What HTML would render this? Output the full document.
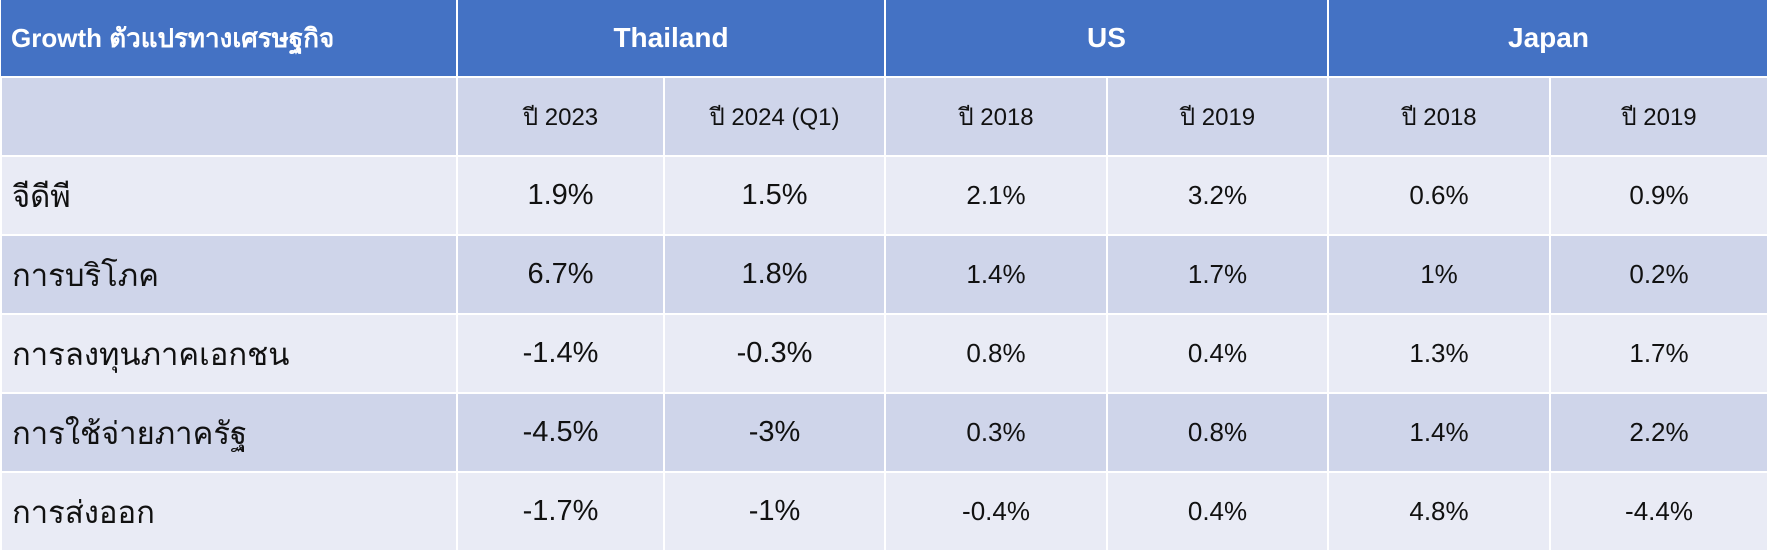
<!DOCTYPE html>
<html><head><meta charset="utf-8"><style>
html,body{margin:0;padding:0;background:#fff;}
body{width:1767px;height:550px;overflow:hidden;font-family:"Liberation Sans","Noto Sans CJK SC",sans-serif;}
table{border-collapse:collapse;table-layout:fixed;width:1767px;}
td{border:2px solid #fff;padding:0;text-align:center;color:#111;overflow:hidden;white-space:nowrap;}
tr.h td{background:#4472C4;color:#fff;font-weight:bold;font-size:28px;height:76px;}
tr.h td.l{text-align:left;padding-left:10px;font-size:26px;}
tr td{height:77px;font-size:26px;}
tr.a td{background:#E9EBF5;}
tr.b td{background:#CFD5EA;}
tr.s td{font-size:24px;}
td.l{text-align:left;padding-left:10px;font-size:31px;}
td.t{font-size:29px;}
</style></head><body>
<table>
<colgroup><col style="width:456px"><col style="width:207px"><col style="width:221px"><col style="width:222px"><col style="width:221px"><col style="width:222px"><col style="width:218px"></colgroup>
<tr class="h"><td class="l" style="border-top:0;border-left:0">Growth ตัวแปรทางเศรษฐกิจ</td><td colspan="2" style="border-top:0">Thailand</td><td colspan="2" style="border-top:0">US</td><td colspan="2" style="border-top:0;border-right:0">Japan</td></tr>
<tr class="b s"><td></td><td>ปี 2023</td><td>ปี 2024 (Q1)</td><td>ปี 2018</td><td>ปี 2019</td><td>ปี 2018</td><td>ปี 2019</td></tr>
<tr class="a"><td class="l">จีดีพี</td><td class="t">1.9%</td><td class="t">1.5%</td><td>2.1%</td><td>3.2%</td><td>0.6%</td><td>0.9%</td></tr>
<tr class="b"><td class="l">การบริโภค</td><td class="t">6.7%</td><td class="t">1.8%</td><td>1.4%</td><td>1.7%</td><td>1%</td><td>0.2%</td></tr>
<tr class="a"><td class="l">การลงทุนภาคเอกชน</td><td class="t">-1.4%</td><td class="t">-0.3%</td><td>0.8%</td><td>0.4%</td><td>1.3%</td><td>1.7%</td></tr>
<tr class="b"><td class="l">การใช้จ่ายภาครัฐ</td><td class="t">-4.5%</td><td class="t">-3%</td><td>0.3%</td><td>0.8%</td><td>1.4%</td><td>2.2%</td></tr>
<tr class="a"><td class="l">การส่งออก</td><td class="t">-1.7%</td><td class="t">-1%</td><td>-0.4%</td><td>0.4%</td><td>4.8%</td><td>-4.4%</td></tr>
</table>
</body></html>
